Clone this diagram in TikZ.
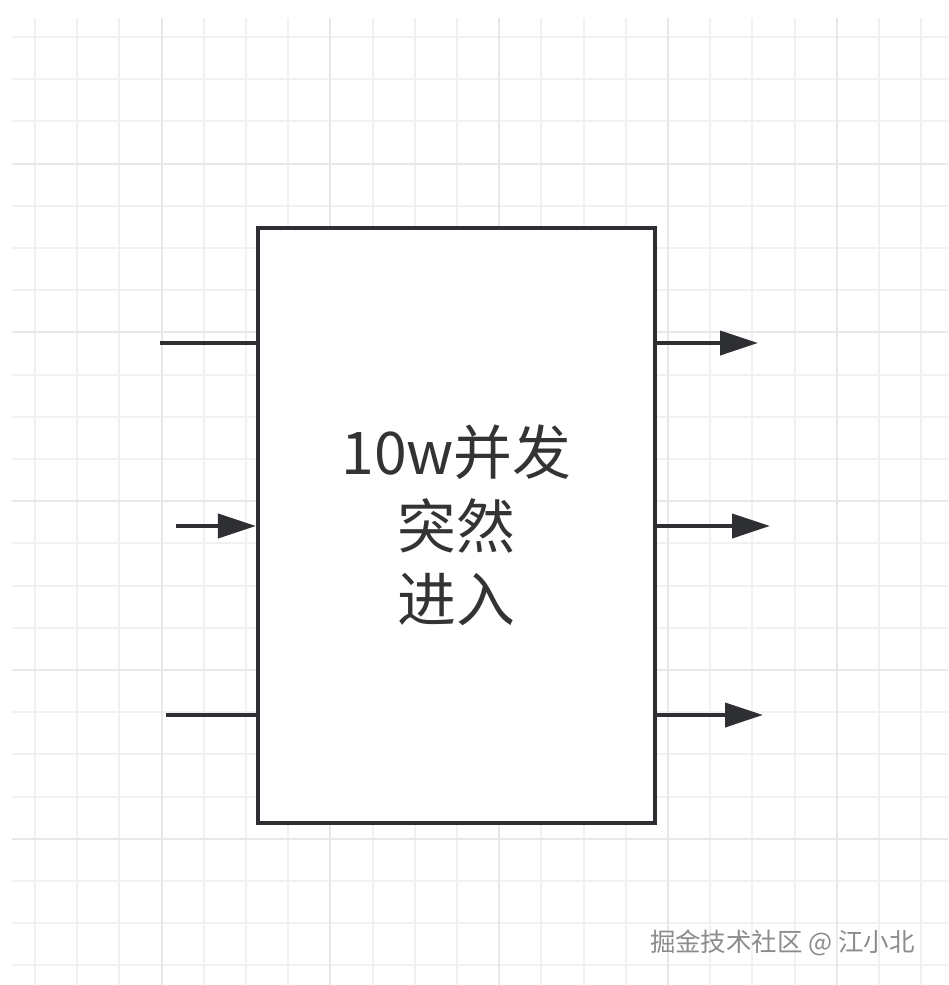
\documentclass[tikz,border=0pt]{standalone}
\usepackage{fontspec}
\newfontfamily\cjk{Noto Sans CJK SC}
\usetikzlibrary{arrows.meta}
\definecolor{inkc}{HTML}{2D2F33}
\definecolor{textc}{HTML}{333333}
\definecolor{gridminor}{HTML}{F1F1F1}
\definecolor{gridmajor}{HTML}{E8E8E8}
\definecolor{markc}{HTML}{8C8C8C}

\begin{document}
\begin{tikzpicture}[x=0.02cm, y=-0.02cm, >={Triangle[length=0.76cm, width=0.48cm]},
  flow/.style={line width=0.08cm, inkc},
  server/.style={draw=inkc, line width=0.085cm, fill=white, minimum width=7.94cm,
    minimum height=11.9cm, inner sep=0pt, align=center, text=textc,
    font=\cjk\fontsize{33.5}{42}\selectfont}]
  \useasboundingbox (0,0) rectangle (948,985);
  \fill[white] (0,0) rectangle (948,985);

  % Background grid
  \foreach \i in {0,...,21} {
    \pgfmathsetmacro{\gx}{35+42.2*\i}
    \draw[gridminor, line width=0.04cm] (\gx,18) -- (\gx,985);
  }
  \foreach \i in {0,...,22} {
    \pgfmathsetmacro{\gy}{37+42.2*\i}
    \draw[gridminor, line width=0.04cm] (12,\gy) -- (948,\gy);
  }
  \foreach \i in {3,7,11,15,19} {
    \pgfmathsetmacro{\gx}{35+42.2*\i}
    \draw[gridmajor, line width=0.04cm] (\gx,18) -- (\gx,985);
  }
  \foreach \i in {3,7,11,15,19} {
    \pgfmathsetmacro{\gy}{37+42.2*\i}
    \draw[gridmajor, line width=0.04cm] (12,\gy) -- (948,\gy);
  }

  % The box
  \node[server] (box) at (456.5,525.5) {10w并发\\突然\\进入};

  % Incoming side
  \coordinate (in1) at (160,343);
  \coordinate (in2) at (176,526);
  \coordinate (in3) at (166,715);
  \draw[flow] (in1) -- (in1 -| box.west);
  \draw[flow, ->] (in2) -- (in2 -| box.west);
  \draw[flow] (in3) -- (in3 -| box.west);

  % Outgoing side
  \coordinate (out1) at (758,343);
  \coordinate (out2) at (770,526);
  \coordinate (out3) at (763,715);
  \draw[flow, ->] (out1 -| box.east) -- (out1);
  \draw[flow, ->] (out2 -| box.east) -- (out2);
  \draw[flow, ->] (out3 -| box.east) -- (out3);

  % Watermark
  \node[anchor=east, text=markc, font=\cjk\fontsize{14.5}{16}\selectfont] (mark) at (921,943) {掘金技术社区 @ 江小北};
\end{tikzpicture}
\end{document}
